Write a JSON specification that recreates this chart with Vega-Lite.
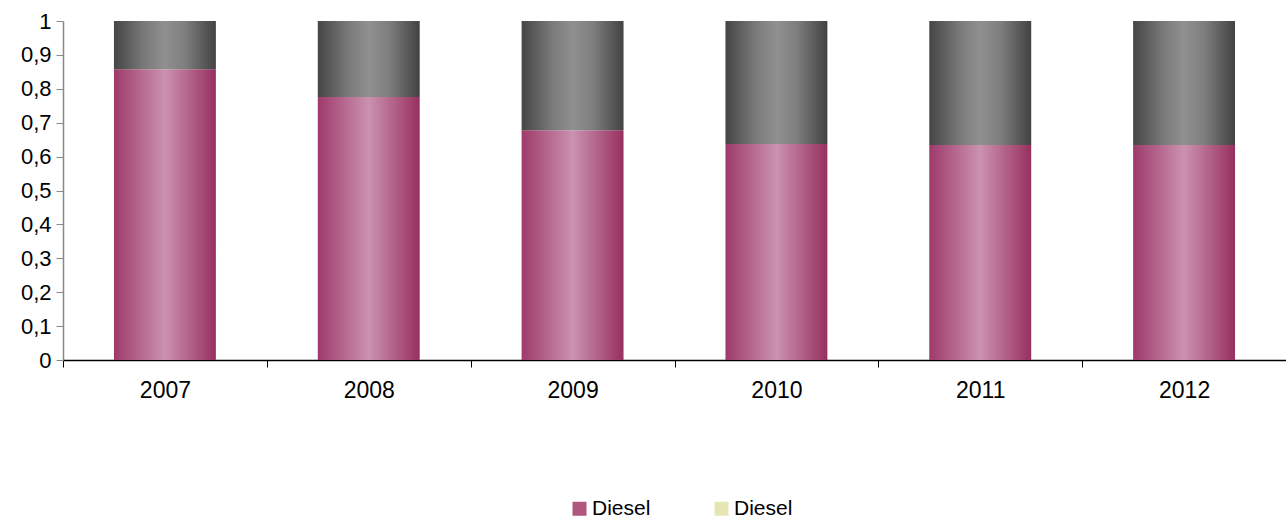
{
  "$schema": "https://vega.github.io/schema/vega-lite/v6.json",
  "width": 1223,
  "height": 339,
  "autosize": {"type": "none"},
  "padding": {"left": 63, "top": 21, "right": 0, "bottom": 158},
  "background": "white",
  "config": {
    "view": {"stroke": null},
    "font": "Liberation Sans",
    "axis": {"labelFont": "Liberation Sans", "labelColor": "black", "grid": false, "title": null},
    "axisY": {
      "labelFontSize": 22,
      "labelPadding": 5,
      "labelOverlap": false,
      "labelFlush": false,
      "tickSize": 7,
      "tickColor": "#888888",
      "domainColor": "#888888",
      "domainWidth": 1.5
    }
  },
  "data": {
    "values": [
      {"year": "2007", "diesel": 0.858},
      {"year": "2008", "diesel": 0.776},
      {"year": "2009", "diesel": 0.678},
      {"year": "2010", "diesel": 0.637},
      {"year": "2011", "diesel": 0.634},
      {"year": "2012", "diesel": 0.634}
    ]
  },
  "encoding": {
    "x": {
      "field": "year",
      "type": "nominal",
      "scale": {"paddingInner": 0, "paddingOuter": 0},
      "axis": {
        "labelAngle": 0,
        "labelFontSize": 23,
        "labelPadding": 12,
        "tickBand": "extent",
        "tickSize": 7,
        "tickColor": "#000000",
        "domainColor": "#000000",
        "domainWidth": 1.5,
        "tickWidth": 1
      }
    }
  },
  "layer": [
    {
      "mark": {
        "type": "bar",
        "width": {"band": 0.5},
        "fill": {
          "gradient": "linear", "x1": 0, "x2": 1, "y1": 0, "y2": 0,
          "stops": [
            {"offset": 0, "color": "#9E3A6A"},
            {"offset": 0.5, "color": "#CB92B0"},
            {"offset": 1, "color": "#98305F"}
          ]
        }
      },
      "encoding": {
        "y": {
          "field": "diesel",
          "type": "quantitative",
          "scale": {"domain": [0, 1], "nice": false},
          "axis": {
            "values": [0, 0.1, 0.2, 0.3, 0.4, 0.5, 0.6, 0.7, 0.8, 0.9, 1],
            "labelExpr": "replace(format(datum.value, '~g'), '.', ',')",
            "labelOverlap": false,
            "labelFontSize": 22
          }
        }
      }
    },
    {
      "mark": {
        "type": "bar",
        "width": {"band": 0.5},
        "fill": {
          "gradient": "linear", "x1": 0, "x2": 1, "y1": 0, "y2": 0,
          "stops": [
            {"offset": 0, "color": "#454545"},
            {"offset": 0.3, "color": "#7A7A7A"},
            {"offset": 0.5, "color": "#909090"},
            {"offset": 0.7, "color": "#7E7E7E"},
            {"offset": 1, "color": "#424242"}
          ]
        }
      },
      "encoding": {
        "y": {
          "field": "diesel",
          "type": "quantitative",
          "axis": {
            "values": [0, 0.1, 0.2, 0.3, 0.4, 0.5, 0.6, 0.7, 0.8, 0.9, 1],
            "labelExpr": "replace(format(datum.value, '~g'), '.', ',')",
            "labelOverlap": false,
            "labelFontSize": 22
          }
        },
        "y2": {"datum": 1}
      }
    },
    {
      "mark": {"type": "point", "filled": true, "shape": "square", "size": 0},
      "encoding": {
        "y": {
          "field": "diesel",
          "type": "quantitative",
          "axis": {
            "values": [0, 0.1, 0.2, 0.3, 0.4, 0.5, 0.6, 0.7, 0.8, 0.9, 1],
            "labelExpr": "replace(format(datum.value, '~g'), '.', ',')",
            "labelOverlap": false,
            "labelFontSize": 22
          }
        },
        "color": {
          "datum": "Diesel1",
          "type": "nominal",
          "scale": {"domain": ["Diesel1", "Diesel2"], "range": ["#B0577F", "#E6E6B4"]},
          "legend": {
            "title": null,
            "orient": "none",
            "legendX": 506,
            "legendY": 477,
            "direction": "horizontal",
            "symbolType": "square",
            "symbolSize": 196,
            "symbolOpacity": 1,
            "symbolStrokeWidth": 0,
            "labelExpr": "'Diesel'",
            "labelFont": "Liberation Sans",
            "labelFontSize": 21,
            "labelColor": "black",
            "labelOffset": 2,
            "columnPadding": 60
          }
        }
      }
    }
  ]
}
